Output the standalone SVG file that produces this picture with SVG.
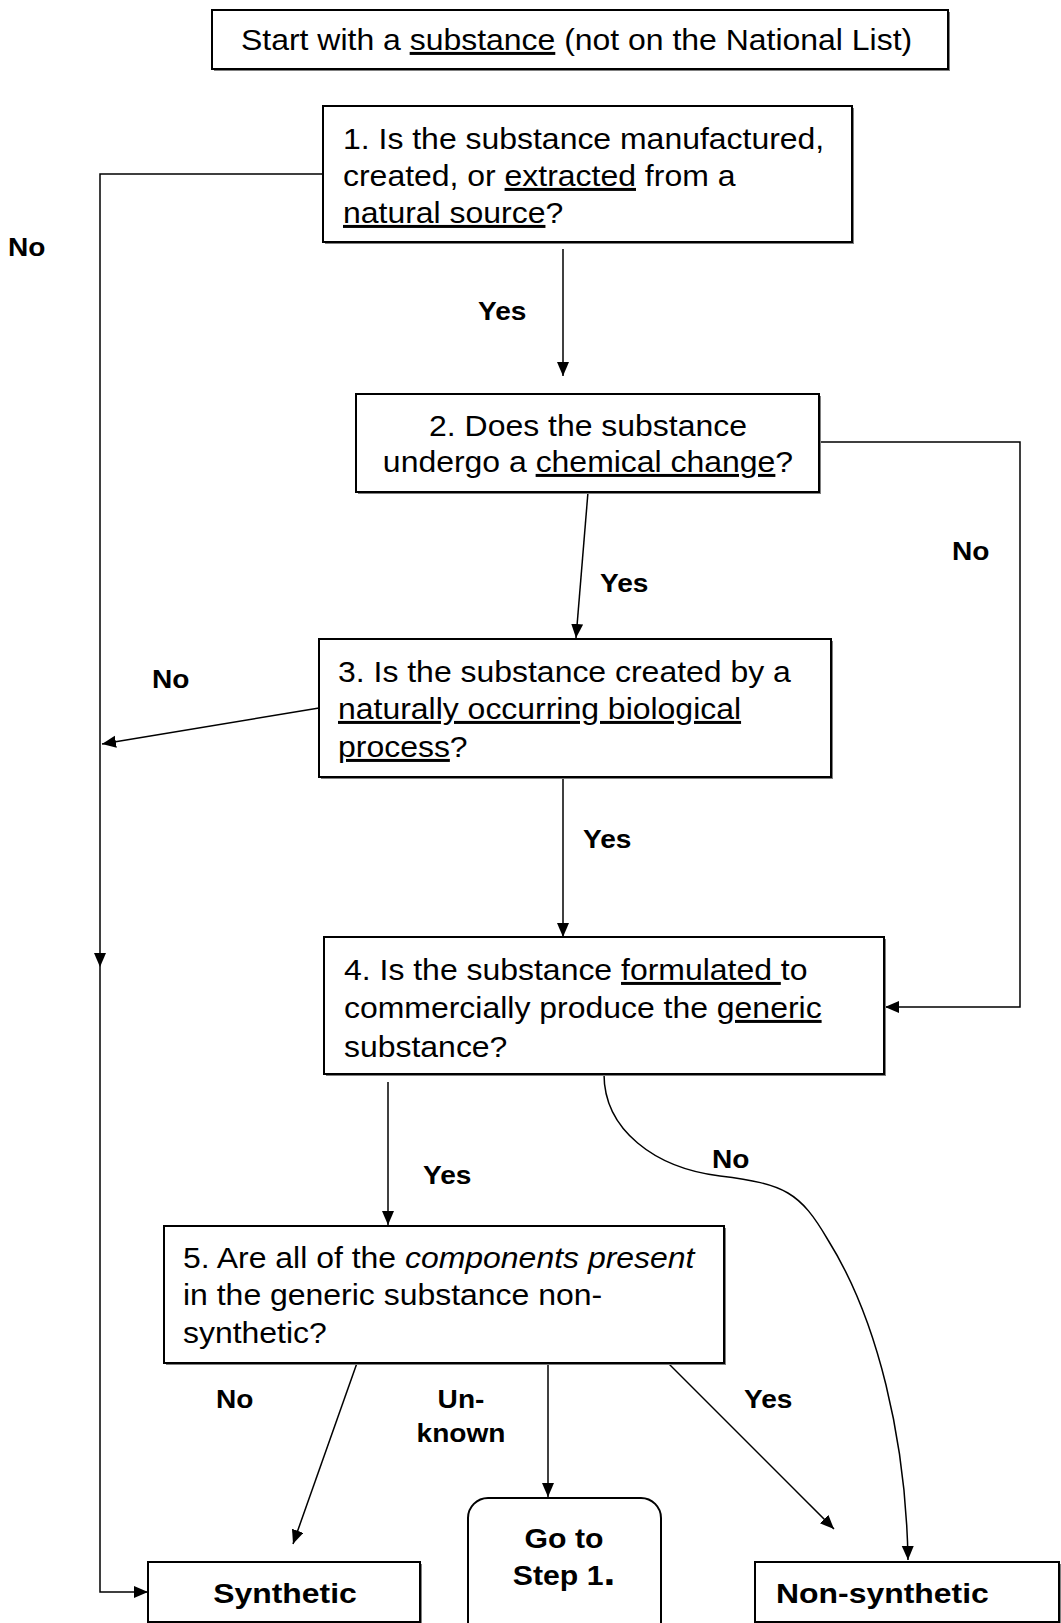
<svg xmlns="http://www.w3.org/2000/svg" width="1061" height="1623" viewBox="0 0 1061 1623">
<style>
.t{font-family:"Liberation Sans",Arial,sans-serif;font-size:30px;fill:#000}
.b{font-weight:bold;font-size:28.5px}
.lb{font-family:"Liberation Sans",Arial,sans-serif;font-size:26px;font-weight:bold;fill:#000}
.box{fill:#fff;stroke:#000;stroke-width:2}
.sh{fill:#808080}
.ln{fill:none;stroke:#000;stroke-width:1.5}
.u{text-decoration:underline}
.i{font-style:italic}
</style>
<defs>
<marker id="ah" markerUnits="userSpaceOnUse" markerWidth="16" markerHeight="14" refX="14" refY="6" orient="auto">
<path d="M0,0 L14,6 L0,12 z" fill="#000"/>
</marker>
</defs>
<rect width="1061" height="1623" fill="#fff"/>

<g id="connectors">
<path class="ln" d="M323,174 H100 V967" marker-end="url(#ah)"/>
<path class="ln" d="M100,967 V1592 H148" marker-end="url(#ah)"/>
<path class="ln" d="M563,249 V376" marker-end="url(#ah)"/>
<path class="ln" d="M820,442 H1020 V1007 H885" marker-end="url(#ah)"/>
<path class="ln" d="M588,492 L576,638" marker-end="url(#ah)"/>
<path class="ln" d="M319,708 L102,744" marker-end="url(#ah)"/>
<path class="ln" d="M563,777 V937" marker-end="url(#ah)"/>
<path class="ln" d="M388,1082 V1225" marker-end="url(#ah)"/>
<path class="ln" d="M604,1074 C604,1130 655,1168 720,1176 C785,1184 800,1192 828,1240 C878,1320 906,1440 908,1560" marker-end="url(#ah)"/>
<path class="ln" d="M357,1363 L293,1544" marker-end="url(#ah)"/>
<path class="ln" d="M548,1323 V1497" marker-end="url(#ah)"/>
<path class="ln" d="M668,1363 L834,1529" marker-end="url(#ah)"/>
</g>

<g id="labels">
<g transform="translate(8,0) scale(1.08,1)"><text class="lb" y="256">No</text></g>
<g transform="translate(478,0) scale(1.08,1)"><text class="lb" y="320">Yes</text></g>
<g transform="translate(952,0) scale(1.08,1)"><text class="lb" y="560">No</text></g>
<g transform="translate(600,0) scale(1.08,1)"><text class="lb" y="592">Yes</text></g>
<g transform="translate(152,0) scale(1.08,1)"><text class="lb" y="688">No</text></g>
<g transform="translate(583,0) scale(1.08,1)"><text class="lb" y="848">Yes</text></g>
<g transform="translate(423,0) scale(1.08,1)"><text class="lb" y="1184">Yes</text></g>
<g transform="translate(712,0) scale(1.08,1)"><text class="lb" y="1168">No</text></g>
<g transform="translate(216,0) scale(1.08,1)"><text class="lb" y="1408">No</text></g>
<g transform="translate(461,0) scale(1.08,1)"><text class="lb" y="1408" text-anchor="middle">Un-</text><text class="lb" y="1442" text-anchor="middle">known</text></g>
<g transform="translate(744,0) scale(1.08,1)"><text class="lb" y="1408">Yes</text></g>
</g>

<g id="start">
<rect class="sh" x="214" y="12" width="736" height="59"/>
<rect class="box" x="212" y="10" width="736" height="59"/>
<g transform="translate(241,0) scale(1.065,1)"><text class="t" y="50">Start with a <tspan class="u">substance</tspan> (not on the National List)</text></g>
</g>

<g id="q1">
<rect class="sh" x="325" y="108" width="529" height="136"/>
<rect class="box" x="323" y="106" width="529" height="136"/>
<g transform="translate(343,0) scale(1.065,1)">
<text class="t" y="149">1. Is the substance manufactured,</text>
<text class="t" y="186">created, or <tspan class="u">extracted</tspan> from a</text>
<text class="t" y="223"><tspan class="u">natural source</tspan>?</text>
</g>
</g>

<g id="q2">
<rect class="sh" x="358" y="396" width="463" height="98"/>
<rect class="box" x="356" y="394" width="463" height="98"/>
<g transform="translate(588,0) scale(1.065,1)">
<text class="t" y="436" text-anchor="middle">2. Does the substance</text>
<text class="t" y="472" text-anchor="middle">undergo a <tspan class="u">chemical change</tspan>?</text>
</g>
</g>

<g id="q3">
<rect class="sh" x="321" y="641" width="512" height="138"/>
<rect class="box" x="319" y="639" width="512" height="138"/>
<g transform="translate(338,0) scale(1.065,1)">
<text class="t" y="682">3. Is the substance created by a</text>
<text class="t" y="719"><tspan class="u">naturally occurring biological</tspan></text>
<text class="t" y="757"><tspan class="u">process</tspan>?</text>
</g>
</g>

<g id="q4">
<rect class="sh" x="326" y="939" width="560" height="137"/>
<rect class="box" x="324" y="937" width="560" height="137"/>
<g transform="translate(344,0) scale(1.065,1)">
<text class="t" y="980">4. Is the substance <tspan class="u">formulated </tspan>to</text>
<text class="t" y="1018">commercially produce the <tspan class="u">generic</tspan></text>
<text class="t" y="1057">substance?</text>
</g>
</g>

<g id="q5">
<rect class="sh" x="166" y="1228" width="560" height="137"/>
<rect class="box" x="164" y="1226" width="560" height="137"/>
<g transform="translate(183,0) scale(1.065,1)">
<text class="t" y="1268">5. Are all of the <tspan class="i">components present</tspan></text>
<text class="t" y="1305">in the generic substance non-</text>
<text class="t" y="1343">synthetic?</text>
</g>
</g>

<g id="synthetic">
<rect class="sh" x="150" y="1564" width="272" height="60"/>
<rect class="box" x="148" y="1562" width="272" height="60"/>
<g transform="translate(285,0) scale(1.12,1)"><text class="t b" y="1603" text-anchor="middle">Synthetic</text></g>
</g>

<g id="goto">
<rect class="box" x="468" y="1498" width="193" height="150" rx="20" ry="20"/>
<g transform="translate(564,0) scale(1.12,1)">
<text class="t b" y="1548" text-anchor="middle" style="font-size:27px">Go to</text>
<text class="t b" y="1585" text-anchor="middle" style="font-size:27px">Step 1<tspan style="font-size:38px">.</tspan></text>
</g>
</g>

<g id="nonsynthetic">
<rect class="sh" x="757" y="1564" width="304" height="60"/>
<rect class="box" x="755" y="1562" width="304" height="60"/>
<g transform="translate(776,0) scale(1.12,1)"><text class="t b" y="1603">Non-synthetic</text></g>
</g>
</svg>
